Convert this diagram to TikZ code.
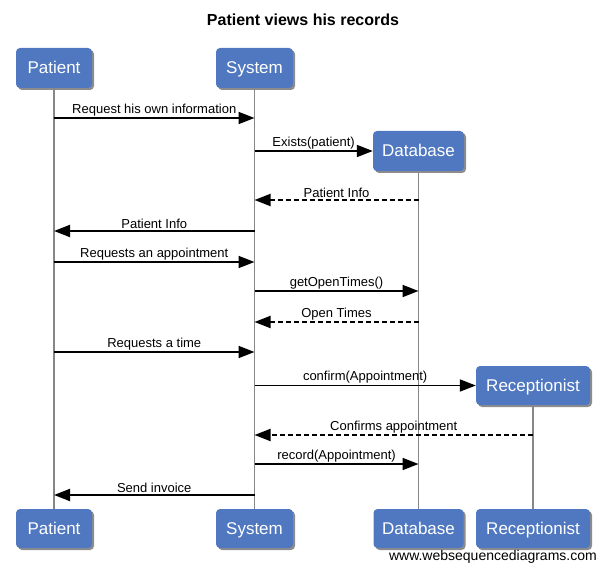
\documentclass[tikz,border=0pt]{standalone}
\usepackage{fontspec}
\setmainfont{Liberation Sans}
\usetikzlibrary{arrows.meta,shadows}
\definecolor{boxblue}{RGB}{80,120,192}
\definecolor{lifegrey}{RGB}{135,135,135}
\tikzset{
  actor/.style={draw=none, fill=boxblue, rounded corners=4pt, text=white,
    font=\fontsize{17}{19}\selectfont, minimum height=40pt, inner sep=0pt,
    text height=12pt, text depth=0pt,
    drop shadow={shadow xshift=2pt, shadow yshift=-2pt, opacity=0.45, fill=black}},
  lifeline/.style={draw=lifegrey, line width=1.8pt},
  msg/.style={draw=black, line width=1.8pt, -{Triangle[length=16pt,width=12pt]}},
  reply/.style={msg, dash pattern=on 5pt off 3pt},
  lbl/.style={font=\fontsize{13}{15}\selectfont, above=0pt, midway, inner sep=1pt},
}
\begin{document}
\begin{tikzpicture}[x=1pt,y=-1pt]
\useasboundingbox[fill=white] (0,0) rectangle (605,572);
\node[font=\fontsize{16}{19}\selectfont\bfseries] (title) at (303,20) {Patient views his records};
% actors top
\node[actor, minimum width=76pt] (pt) at (54,68) {Patient};
\node[actor, minimum width=77pt] (st) at (254.5,68) {System};
\node[actor, minimum width=91pt] (db) at (418.5,151) {Database};
\node[actor, minimum width=114pt, minimum height=39pt] (rc) at (533,385.5) {Receptionist};
% actors bottom
\node[actor, minimum width=76pt, minimum height=39pt] (pb) at (54,528.5) {Patient};
\node[actor, minimum width=77pt, minimum height=39pt] (sb) at (254.5,528.5) {System};
\node[actor, minimum width=90pt, minimum height=39pt] (dbb) at (418.5,528.5) {Database};
\node[actor, minimum width=114pt, minimum height=39pt] (rcb) at (533,528.5) {Receptionist};
% lifelines
\draw[lifeline] (pt.south) -- (pb.north);
\draw[lifeline] (st.south) -- (sb.north);
\draw[lifeline] (db.south) -- (dbb.north);
\draw[lifeline] (rc.south) -- (rcb.north);
% coordinates on lifelines
\coordinate (p1) at (54,118);  \coordinate (s1) at (254.5,118);
\coordinate (s2) at (254.5,151);
\coordinate (d3) at (418.5,200); \coordinate (s3) at (254.5,200);
\coordinate (s4) at (254.5,231); \coordinate (p4) at (54,231);
\coordinate (p5) at (54,262); \coordinate (s5) at (254.5,262);
\coordinate (s6) at (254.5,291); \coordinate (d6) at (418.5,291);
\coordinate (d7) at (418.5,322); \coordinate (s7) at (254.5,322);
\coordinate (p8) at (54,352); \coordinate (s8) at (254.5,352);
\coordinate (s9) at (254.5,385.5);
\coordinate (r10) at (533,435); \coordinate (s10) at (254.5,435);
\coordinate (s11) at (254.5,464); \coordinate (d11) at (418.5,464);
\coordinate (s12) at (254.5,495); \coordinate (p12) at (54,495);
% messages
\draw[msg] (p1) -- node[lbl] {Request his own information} (s1);
\draw[msg] (s2) -- node[lbl] {Exists(patient)} (db.west);
\draw[reply] (d3) -- node[lbl] {Patient Info} (s3);
\draw[msg] (s4) -- node[lbl] {Patient Info} (p4);
\draw[msg] (p5) -- node[lbl] {Requests an appointment} (s5);
\draw[msg] (s6) -- node[lbl] {getOpenTimes()} (d6);
\draw[reply] (d7) -- node[lbl] {Open Times} (s7);
\draw[msg] (p8) -- node[lbl] {Requests a time} (s8);
\draw[msg] (s9) -- node[lbl] {confirm(Appointment)} (rc.west);
\draw[reply] (r10) -- node[lbl] {Confirms appointment} (s10);
\draw[msg] (s11) -- node[lbl] {record(Appointment)} (d11);
\draw[msg] (s12) -- node[lbl] {Send invoice} (p12);
% footer
\node[font=\fontsize{14}{16}\selectfont, anchor=east, inner sep=0pt] (footer) at (597,557) {www.websequencediagrams.com};
\end{tikzpicture}
\end{document}
